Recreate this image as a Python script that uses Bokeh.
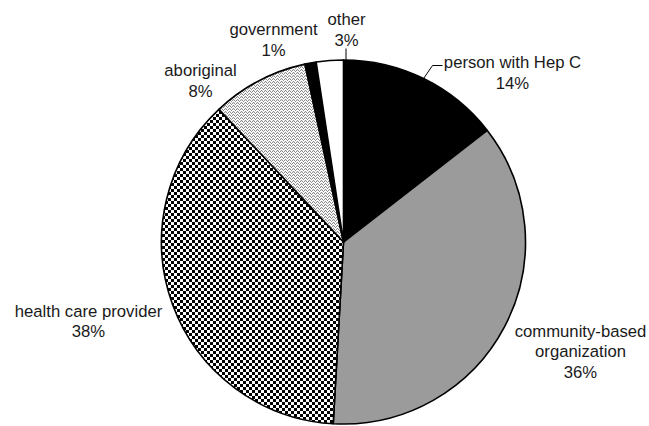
import math, zlib, struct, base64
from bokeh.plotting import figure
from bokeh.models import Range1d, ImageURLTexture, ColumnDataSource
from bokeh.embed import file_html
from bokeh.resources import INLINE
from bokeh.core.properties import value

# ---------------- data ----------------
categories = ["person with Hep C", "community-based\norganization", "health care provider",
              "aboriginal", "government", "other"]
shares = [14.5, 36.4, 37.1, 8.6, 1.0, 2.4]          # slice sizes as drawn
pct_labels = ["14%", "36%", "38%", "8%", "1%", "3%"]  # labels as printed

# ---------------- styling / layout ----------------
W, H = 649, 426
CX, CY_PX, R = 343, 241.5, 182
fills = ["black", "#9b9b9b", "white", "white", "black", "white"]
patterns = [None, None, "checker", "wave", None, None]
label_pos_px = [(512, 62), (580, 330.7), (88, 310.5), (200, 70), (273, 29), (346, 19)]
LINE_STEP = 20.5

def Y(py):
    return H - py

CY = Y(CY_PX)

def png_uri(rows):
    h = len(rows); w = len(rows[0])
    raw = b"".join(b"\x00" + bytes(r) for r in rows)
    def chunk(t, d):
        c = struct.pack(">I", len(d)) + t + d
        return c + struct.pack(">I", zlib.crc32(t + d) & 0xffffffff)
    png = b"\x89PNG\r\n\x1a\n" + chunk(b"IHDR", struct.pack(">IIBBBBB", w, h, 8, 0, 0, 0, 0)) \
        + chunk(b"IDAT", zlib.compress(raw)) + chunk(b"IEND", b"")
    return "data:image/png;base64," + base64.b64encode(png).decode()

cell = 3
chk_rows = [[0 if ((x // cell) + (y // cell)) % 2 == 0 else 255 for x in range(2 * cell)]
            for y in range(2 * cell)]
wave_rows = [
    [255, 255, 120, 255],
    [255, 110, 200, 110],
    [120, 255, 255, 255],
]
# zigzag tile: dark pixels along a wave
wave_rows = [
    [230, 140, 230, 255],
    [140, 240, 140, 255],
    [255, 255, 255, 140],
]
extra = {"checker": ImageURLTexture(url=png_uri(chk_rows)),
         "wave": ImageURLTexture(url=png_uri(wave_rows))}

p = figure(width=W, height=H, output_backend="svg", toolbar_location=None,
           x_range=Range1d(0, W), y_range=Range1d(0, H), min_border=0)
p.axis.visible = False
p.grid.visible = False
p.outline_line_color = None
p.background_fill_color = "white"
p.border_fill_color = "white"

total = sum(shares)
cum = 0.0
mids = []
for i, s in enumerate(shares):
    a0 = math.pi / 2 - 2 * math.pi * cum / total
    cum += s
    a1 = math.pi / 2 - 2 * math.pi * cum / total
    mids.append((a0 + a1) / 2)
    kw = dict(x=CX, y=CY, radius=R, start_angle=a0, end_angle=a1, direction="clock",
              fill_color=fills[i], line_color="black", line_width=1.6, line_join="round")
    if patterns[i]:
        kw.update(hatch_pattern=value(patterns[i]), hatch_extra=extra)
    p.wedge(**kw)

# leader lines
m = mids[0]
sx, sy = CX + R * math.cos(m), CY + R * math.sin(m)
p.line(x=[sx, 432, 442], y=[sy, Y(65), Y(65)], line_color="black", line_width=1)
p.line(x=[345.5, 345.5], y=[Y(48), CY + R], line_color="black", line_width=1)

# labels
xs, ys, ts = [], [], []
for i, cat in enumerate(categories):
    lines = cat.split("\n") + [pct_labels[i]]
    lx, ly = label_pos_px[i]
    for k, t in enumerate(lines):
        xs.append(lx)
        ys.append(Y(ly + k * LINE_STEP))
        ts.append(t)
src = ColumnDataSource(dict(x=xs, y=ys, text=ts))
p.text(x="x", y="y", text="text", source=src, text_font=value("Liberation Sans"),
       text_font_size="16.7px", text_align="center", text_baseline="alphabetic",
       text_color="#1a1a1a")

open("out.html", "w").write(file_html(p, INLINE))
